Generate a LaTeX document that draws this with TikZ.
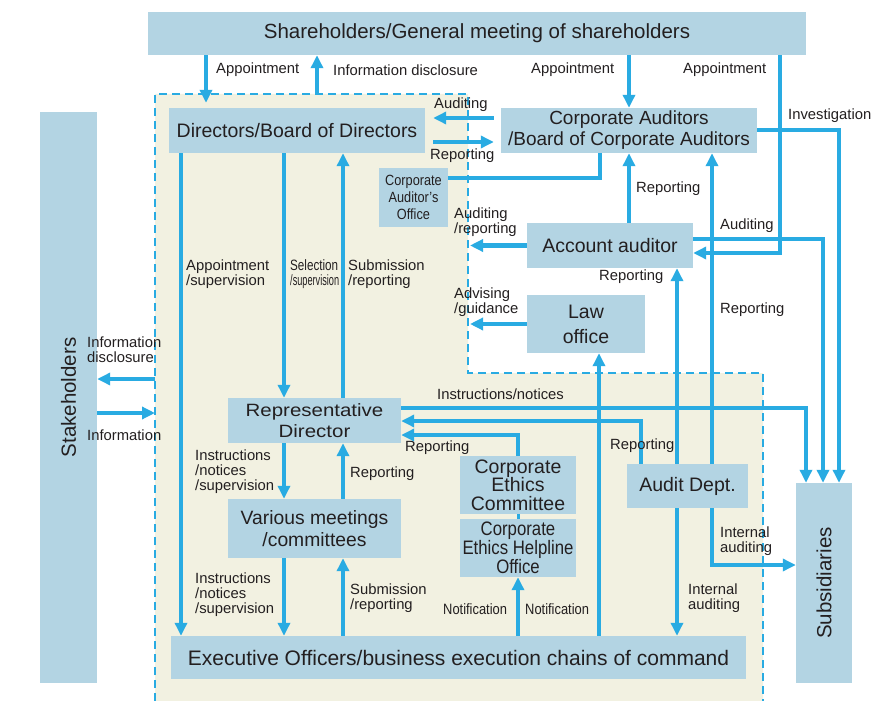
\documentclass[tikz,border=0pt]{standalone}
\usepackage{fontspec}
\usepackage{graphicx}
\setmainfont{Liberation Sans}
\newfontfamily\narrowsans{Liberation Sans}[FakeStretch=0.86]
\newfontfamily\widesans{Liberation Sans}[FakeStretch=1.15]
\usetikzlibrary{arrows.meta}
\definecolor{boxc}{HTML}{B3D4E3}
\definecolor{arrc}{HTML}{29ABE2}
\definecolor{beige}{HTML}{F2F1E1}
\definecolor{txtc}{HTML}{231F20}
\pgfdeclarelayer{region}
\pgfdeclarelayer{wires}
\pgfsetlayers{region,wires,main}
\begin{document}
\begin{tikzpicture}[x=1pt,y=-1pt,
  box/.style={fill=boxc, inner sep=0pt, align=center, text=txtc, font=\fontsize{19.5}{21}\selectfont},
  lbl/.style={inner sep=0pt, anchor=west, align=left, text=txtc, font=\fontsize{14.8}{15}\selectfont},
  vtext/.style={rotate=90, inner sep=0pt, text=txtc, font=\fontsize{20.5}{22}\selectfont},
  wire/.style={line width=4.6pt, draw=arrc},
  arr/.style={wire, -{Triangle[length=13pt,width=12pt]}},
]
\useasboundingbox (0,0) rectangle (887,701);

% boxes
\node[box, minimum width=658pt, minimum height=43pt, font=\fontsize{20.5}{22}\selectfont] (sh) at (477,33.5) {Shareholders/General meeting of shareholders};
\node[box, minimum width=57pt, minimum height=571pt] (stake) at (68.5,397.5) {};
\node[vtext] (staketext) at (stake.center) {Stakeholders};
\node[box, minimum width=256pt, minimum height=45pt] (dir) at (297,130.5) {Directors/Board of Directors};
\node[box, minimum width=256pt, minimum height=45pt, font=\fontsize{19}{21}\selectfont] (ca) at (629,130.5) {Corporate Auditors\\/Board of Corporate Auditors};
\node[box, minimum width=69pt, minimum height=59pt, font=\narrowsans\fontsize{14.8}{16.7}\selectfont] (cao) at (413.5,197.5) {Corporate\\Auditor’s\\Office};
\node[box, minimum width=166pt, minimum height=45pt] (acc) at (610,245.5) {Account auditor};
\node[box, minimum width=118pt, minimum height=58pt, font=\fontsize{19.5}{25}\selectfont] (law) at (586,324) {Law\\office};
\node[box, minimum width=173pt, minimum height=45pt, font=\widesans\fontsize{17.8}{20.7}\selectfont] (rep) at (314.5,420.5) {Representative\\Director};
\node[box, minimum width=173pt, minimum height=59pt, font=\fontsize{19.3}{22}\selectfont] (var) at (314.5,528.5) {Various meetings\\/committees};
\node[box, minimum width=116pt, minimum height=58pt, font=\fontsize{19.5}{18.3}\selectfont] (cec) at (518,485) {Corporate\\Ethics\\Committee};
\node[box, minimum width=116pt, minimum height=58pt, font=\narrowsans\fontsize{19.5}{19}\selectfont] (help) at (518,548) {Corporate\\Ethics Helpline\\Office};
\node[box, minimum width=121pt, minimum height=44pt] (audit) at (687.5,486) {Audit Dept.};
\node[box, minimum width=56pt, minimum height=200pt] (sub) at (824,583) {};
\node[vtext] (subtext) at (sub.center) {Subsidiaries};
\node[box, minimum width=575pt, minimum height=43pt, font=\fontsize{21}{23}\selectfont] (exec) at (458.5,657.5) {Executive Officers/business execution chains of command};

% free ends on the dashed border
\coordinate (dtop) at (317,94);
\coordinate (dleft1) at (155,379);
\coordinate (dleft2) at (155,413);
\coordinate (dmid1) at (470,245.5);
\coordinate (dmid2) at (470,324);

\begin{pgfonlayer}{region}
\fill[white] (0,0) rectangle (887,701);
\fill[beige] (155,94) -- (468,94) -- (468,373) -- (763,373) -- (763,701) -- (155,701) -- cycle;
\draw[arrc, line width=2.8pt, dash pattern=on 8pt off 5pt] (155,701) -- (155,94) -- (468,94) -- (468,373) -- (763,373) -- (763,701);
\end{pgfonlayer}

\begin{pgfonlayer}{wires}
\draw[arr, shorten >=5pt] (206,0 |- sh.south) -- (206,0 |- dir.north);
\draw[arr] (dtop) -- (317,0 |- sh.south);
\draw[arr] (629,0 |- sh.south) -- (629,0 |- ca.north);
\draw[arr] (780,0 |- sh.south) |- (acc.east |- 0,253);
\draw[arr] (ca.east |- 0,130) -| (839,0 |- sub.north);
\draw[arr, shorten <=7pt, shorten >=8pt] (ca.west |- 0,118) -- (dir.east |- 0,118);
\draw[arr, shorten <=8pt, shorten >=7pt] (dir.east |- 0,142) -- (ca.west |- 0,142);
\draw[wire] (cao.east |- 0,178) -| (600,0 |- ca.south);
\draw[arr] (629,0 |- acc.north) -- (629,0 |- ca.south);
\draw[arr] (acc.west) -- (dmid1);
\draw[arr] (law.west) -- (dmid2);
\draw[arr] (599,0 |- exec.north) -- (599,0 |- law.south);
\draw[arr] (677,0 |- audit.north) -- (677,0 |- acc.south);
\draw[arr] (acc.east |- 0,239) -| (823,0 |- sub.north);
\draw[arr] (712,0 |- audit.north) -- (712,0 |- ca.south);
\draw[arr] (712,0 |- audit.south) |- (sub.west |- 0,565);
\draw[arr] (677,0 |- audit.south) -- (677,0 |- exec.north);
\draw[arr] (641,0 |- audit.north) |- (rep.east |- 0,421);
\draw[arr] (rep.east |- 0,408) -| (806,0 |- sub.north);
\draw[arr] (cec.north) |- (rep.east |- 0,435);
\draw[wire, line width=3pt] (cec.south) -- (help.north);
\draw[arr] (exec.north -| help.south) -- (help.south);
\draw[arr] (284,0 |- dir.south) -- (284,0 |- rep.north);
\draw[arr] (343,0 |- rep.north) -- (343,0 |- dir.south);
\draw[arr] (181,0 |- dir.south) -- (181,0 |- exec.north);
\draw[arr] (284,0 |- rep.south) -- (284,0 |- var.north);
\draw[arr] (343,0 |- var.north) -- (343,0 |- rep.south);
\draw[arr] (284,0 |- var.south) -- (284,0 |- exec.north);
\draw[arr] (343,0 |- exec.north) -- (343,0 |- var.south);
\draw[arr] (stake.east |- 0,413) -- (dleft2);
\draw[arr] (dleft1) -- (stake.east |- 0,379);
\end{pgfonlayer}

% labels
\node[lbl] (l1) at (216,70) {Appointment};
\node[lbl] (l2) at (333,70) {Information disclosure};
\node[lbl] (l3) at (531,70) {Appointment};
\node[lbl] (l4) at (683,70) {Appointment};
\node[lbl] (l5) at (788,116) {Investigation};
\node[lbl] (l6) at (434,105) {Auditing};
\node[lbl] (l7) at (430,156) {Reporting};
\node[lbl] (l8) at (636,189) {Reporting};
\node[lbl] (l9) at (454,222.5) {Auditing\\/reporting};
\node[lbl] (l10) at (720,226) {Auditing};
\node[lbl] (l11) at (599,277) {Reporting};
\node[lbl] (l12) at (454,302.5) {Advising\\/guidance};
\node[lbl] (l13) at (720,310) {Reporting};
\node[lbl] (l14) at (186,274.5) {Appointment\\/supervision};
\node[lbl, font=\fontsize{15}{15}\selectfont] (l15) at (290,274.5) {\resizebox{48pt}{\height}{Selection}\\\resizebox{49pt}{\height}{/supervision}};
\node[lbl] (l16) at (348,274.5) {Submission\\/reporting};
\node[lbl] (l17) at (87,349.5) {Information\\disclosure};
\node[lbl] (l18) at (87,435) {Information};
\node[lbl] (l19) at (437,394) {Instructions/notices};
\node[lbl] (l20) at (405,448) {Reporting};
\node[lbl] (l21) at (610,446) {Reporting};
\node[lbl] (l22) at (195,472) {Instructions\\/notices\\/supervision};
\node[lbl] (l23) at (350,474) {Reporting};
\node[lbl] (l24) at (720,541.5) {Internal\\auditing};
\node[lbl] (l25) at (195,595) {Instructions\\/notices\\/supervision};
\node[lbl] (l26) at (350,598.5) {Submission\\/reporting};
\node[lbl, font=\narrowsans\fontsize{15}{15}\selectfont] (l27) at (443,609) {Notification};
\node[lbl, font=\narrowsans\fontsize{15}{15}\selectfont] (l28) at (525,609) {Notification};
\node[lbl] (l29) at (688,598.5) {Internal\\auditing};
\end{tikzpicture}
\end{document}
